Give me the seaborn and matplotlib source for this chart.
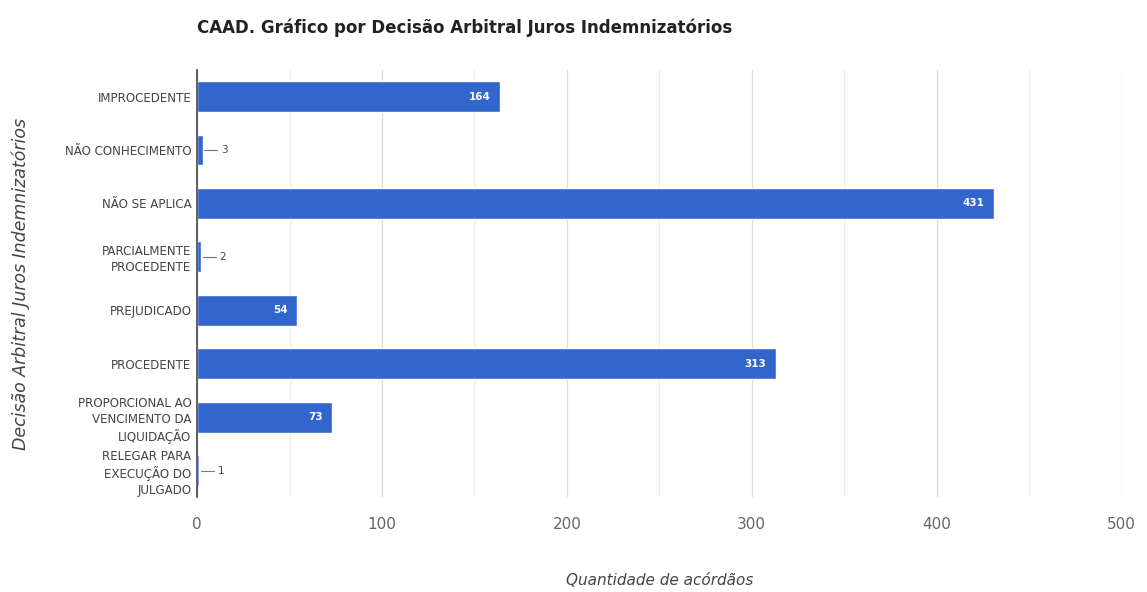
import matplotlib
matplotlib.use("Agg")
import matplotlib.pyplot as plt
import seaborn as sns
import pandas as pd
from matplotlib.ticker import MultipleLocator

categories = ["IMPROCEDENTE", "NÃO CONHECIMENTO", "NÃO SE APLICA",
              "PARCIALMENTE\nPROCEDENTE", "PREJUDICADO", "PROCEDENTE",
              "PROPORCIONAL AO\nVENCIMENTO DA\nLIQUIDAÇÃO",
              "RELEGAR PARA\nEXECUÇÃO DO\nJULGADO"]
values = [164, 3, 431, 2, 54, 313, 73, 1]
xticks = [0, 100, 200, 300, 400, 500]

sns.set_theme(style="white")
plt.rcParams['font.family'] = ['DejaVu Sans']

df = pd.DataFrame({"cat": categories, "val": values})
fig = plt.figure(figsize=(11.47, 5.92), dpi=100)
ax = fig.add_axes([0.1718, 0.16, 0.806, 0.722])

sns.barplot(data=df, y="cat", x="val", orient="h", color="#3366cc",
            saturation=1, width=0.58, ax=ax)

ax.set_xlim(0, 500)
ax.set_ylim(len(categories) - 0.5, -0.5)
ax.set_xticks(xticks)
ax.xaxis.set_minor_locator(MultipleLocator(50))
ax.grid(axis="x", which="major", color="#dddddd", linewidth=1)
ax.grid(axis="x", which="minor", color="#eeeeee", linewidth=1)
ax.set_axisbelow(True)
for s in ["top", "right", "bottom"]:
    ax.spines[s].set_visible(False)
ax.spines["left"].set_color("#444444")
ax.spines["left"].set_linewidth(1.2)
ax.tick_params(axis="x", which="both", length=0, pad=14, labelsize=11, labelcolor="#666666")
ax.tick_params(axis="y", length=0, pad=4, labelsize=8.6, labelcolor="#444444")
for lbl in ax.get_yticklabels():
    lbl.set_horizontalalignment("right")
    lbl.set_multialignment("right")
    lbl.set_linespacing(1.3)

for i, v in enumerate(values):
    if v >= 20:
        ax.text(v - 5, i, str(v), ha="right", va="center", color="white",
                fontsize=7.5, fontweight="bold")
    else:
        ax.plot([v + 1, v + 8], [i, i], color="#777777", linewidth=0.8)
        ax.text(v + 10, i, str(v), ha="left", va="center", color="#444444", fontsize=7.5)

ax.set_xlabel("Quantidade de acórdãos", fontsize=11, style="italic", color="#444444", labelpad=30)
ax.set_ylabel("Decisão Arbitral Juros Indemnizatórios", fontsize=12.5, style="italic",
              color="#444444")
ax.yaxis.set_label_coords(-0.181, 0.5)
fig.text(197 / 1147, 1 - 28 / 592, "CAAD. Gráfico por Decisão Arbitral Juros Indemnizatórios",
         fontsize=12, fontweight="bold", color="#222222", ha="left", va="center")

fig.savefig("out.png", dpi=100)
